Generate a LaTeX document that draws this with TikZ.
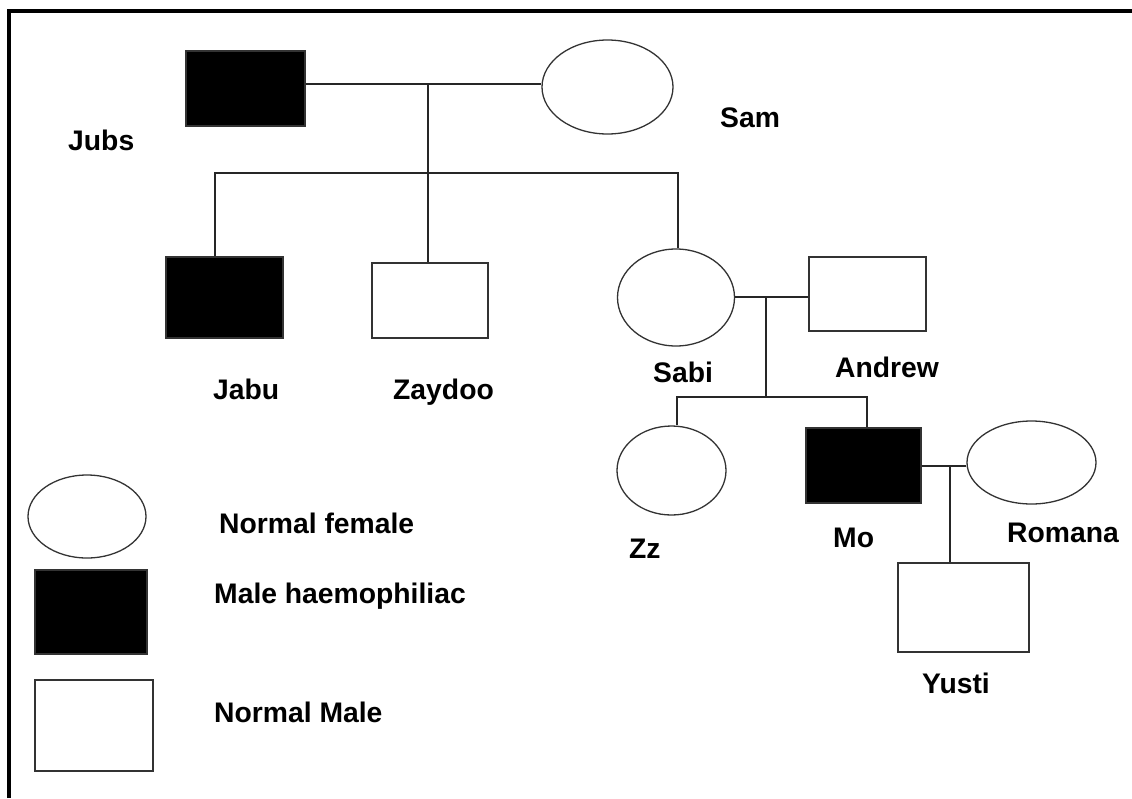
\documentclass[tikz,border=0pt]{standalone}
\usepackage{fontspec}
\setmainfont{Liberation Sans}
\usetikzlibrary{shapes.geometric}
\begin{document}
\begin{tikzpicture}[x=1pt,y=-1pt,
  line/.style={draw=black!85,line width=1.3pt},
  male/.style={rectangle,draw=black!80,line width=1.3pt,fill=white,inner sep=0pt},
  affected/.style={rectangle,draw=black!80,line width=1.3pt,fill=black,inner sep=0pt},
  female/.style={ellipse,draw=black!80,line width=1.3pt,fill=white,inner sep=0pt},
  lbl/.style={anchor=base west,inner sep=0pt,font=\fontsize{28.3}{33}\selectfont\bfseries}]
\useasboundingbox (0,0) rectangle (1132,798);
\fill[white] (0,0) rectangle (1132,798);
% outer frame (left and top edges)
\draw[line width=4pt,black] (9,798) -- (9,10.5) -- (1132,10.5);

% generation I
\node[affected,minimum width=119pt,minimum height=75pt] (jubs) at (245.5,88.5) {};
\node[female,minimum width=131pt,minimum height=94pt] (sam) at (607.5,87) {};
\node[lbl] (jubsL) at (68,150) {Jubs};
\node[lbl] (samL) at (720,127) {Sam};

% generation II
\node[affected,minimum width=117pt,minimum height=81pt] (jabu) at (224.5,297.5) {};
\node[male,minimum width=116pt,minimum height=75pt] (zaydoo) at (430,300.5) {};
\node[female,minimum width=117pt,minimum height=97pt] (sabi) at (676,297.5) {};
\node[male,minimum width=117pt,minimum height=74pt] (andrew) at (867.5,294) {};
\node[lbl] (jabuL) at (213,399) {Jabu};
\node[lbl] (zaydooL) at (393,399) {Zaydoo};
\node[lbl] (sabiL) at (653,382) {Sabi};
\node[lbl] (andrewL) at (835,377) {Andrew};

% generation III
\node[female,minimum width=109pt,minimum height=89pt] (zz) at (671.5,470.5) {};
\node[affected,minimum width=115pt,minimum height=75pt] (mo) at (863.5,465.5) {};
\node[female,minimum width=129pt,minimum height=83pt] (romana) at (1031.5,462.5) {};
\node[lbl] (zzL) at (629,558) {Zz};
\node[lbl] (moL) at (833,547) {Mo};
\node[lbl] (romanaL) at (1007,542) {Romana};

% generation IV
\node[male,minimum width=131pt,minimum height=89pt] (yusti) at (963.5,607.5) {};
\node[lbl] (yustiL) at (922,693) {Yusti};

% connectors
\coordinate (m1) at (428,84);
\coordinate (s1) at (428,173);
\coordinate (s1l) at (215,173);
\coordinate (s1r) at (678,173);
\draw[line] (jubs.east |- m1) -- (sam.west |- m1);
\draw[line] (m1) -- (s1);
\draw[line] (s1l |- jabu.north) -- (s1l) -- (s1r) -- (s1r |- sabi.north);
\draw[line] (s1) -- (s1 |- zaydoo.north);

\coordinate (m2) at (766,297);
\coordinate (s2) at (766,397);
\coordinate (s2l) at (677,397);
\coordinate (s2r) at (867,397);
\draw[line] (sabi.east |- m2) -- (andrew.west |- m2);
\draw[line] (m2) -- (s2);
\draw[line] (s2l |- zz.north) -- (s2l) -- (s2r) -- (s2r |- mo.north);

\coordinate (m3) at (950,466);
\draw[line] (mo.east |- m3) -- (romana.west |- m3);
\draw[line] (m3) -- (m3 |- yusti.north);

% key
\node[female,minimum width=118pt,minimum height=83pt] (keyF) at (87,516.5) {};
\node[affected,minimum width=112pt,minimum height=84pt] (keyA) at (91,612) {};
\node[male,minimum width=118pt,minimum height=91pt] (keyM) at (94,725.5) {};
\node[lbl] (keyFL) at (219,533) {Normal female};
\node[lbl] (keyAL) at (214,603) {Male haemophiliac};
\node[lbl] (keyML) at (214,722) {Normal Male};
\end{tikzpicture}
\end{document}
